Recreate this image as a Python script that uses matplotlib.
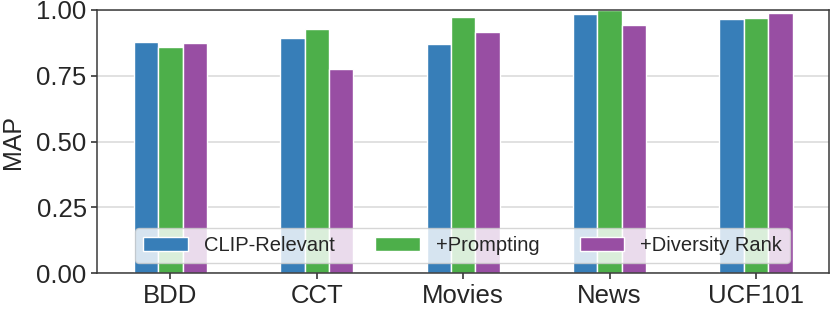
import matplotlib
matplotlib.use("Agg")
import matplotlib.pyplot as plt
import numpy as np

datasets = ["BDD", "CCT", "Movies", "News", "UCF101"]
methods = ["CLIP-Relevant", "+Prompting", "+Diversity Rank"]
clip_relevant = [0.878, 0.892, 0.871, 0.983, 0.966]
prompting = [0.859, 0.926, 0.975, 1.000, 0.970]
diversity_rank = [0.876, 0.777, 0.918, 0.942, 0.990]

colors = ["#377eb8", "#4daf4a", "#984ea3"]

plt.rcParams['font.family'] = ['Liberation Sans', 'DejaVu Sans']
plt.rcParams['text.color'] = '#262626'

fig = plt.figure(figsize=(8.3, 3.11), dpi=100)
ax = fig.add_axes([0.117, 0.122, 0.882, 0.846])

x = np.arange(len(datasets))
w = 1 / 6
series = [clip_relevant, prompting, diversity_rank]
for i, vals in enumerate(series):
    ax.bar(x + (i - 1) * w, vals, w, color=colors[i], edgecolor='white',
           linewidth=1, label=methods[i], zorder=2)

ax.set_xlim(-0.5, 4.5)
ax.set_ylim(0, 1.0)
ax.set_yticks([0, 0.25, 0.5, 0.75, 1.0])
ax.set_yticklabels(["0.00", "0.25", "0.50", "0.75", "1.00"])
ax.set_xticks(x)
ax.set_xticklabels(datasets)
ax.set_ylabel("MAP", fontsize=18, color='#262626')
ax.yaxis.set_label_coords(-0.099, 0.5)
ax.tick_params(axis='both', labelsize=18.5, colors='#262626', length=4.5, width=1.1)
ax.tick_params(axis='y', pad=3)
ax.yaxis.grid(True, color='#d9d9d9', linewidth=1.1, zorder=0)
ax.set_axisbelow(True)
for s in ax.spines.values():
    s.set_color('#3a3a3a')
    s.set_linewidth(1.1)

ax.legend(ncol=3, loc='lower left', bbox_to_anchor=(0.052, 0.038, 0.895, 0.133),
          mode='expand', borderaxespad=0, fontsize=14.5, handlelength=2.2,
          handletextpad=0.8, framealpha=0.8, edgecolor='#cccccc')

fig.savefig("out.png", dpi=100)
